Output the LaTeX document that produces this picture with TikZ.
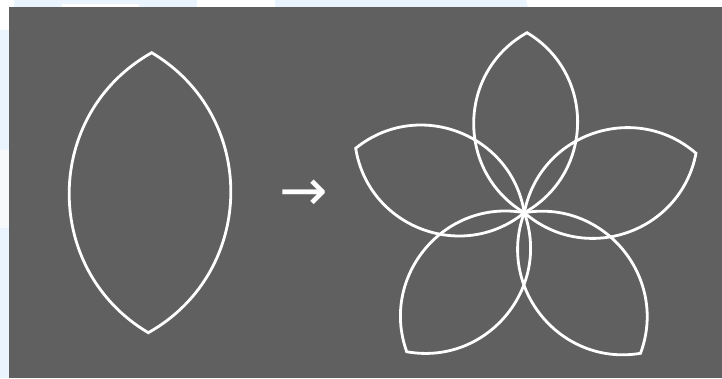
\documentclass[tikz,border=0pt]{standalone}
\usepackage{fontspec}
\newfontfamily\arrowfont{DejaVu Sans}
\definecolor{pagebg}{HTML}{EAF4FF}
\definecolor{panel}{HTML}{606060}
\definecolor{offwhite}{HTML}{F8F9FB}
\begin{document}
\begin{tikzpicture}[x=1pt,y=-1pt,
  petal/.style={draw=white,line width=2.8pt,line join=miter},
  lens/.style={bend left=60,looseness=1.135}]
\useasboundingbox (0,0) rectangle (722,378);
% page background around the panel
\fill[pagebg] (0,0) rectangle (722,378);
\fill[white] (0,0) rectangle (14,30);
\fill[white] (62,4) rectangle (139,7);
\fill[white] (197,0) rectangle (275,7);
\fill[white] (526,0) -- (722,0) -- (722,7) -- (528,7) -- cycle;
\fill[offwhite] (0,150) rectangle (9,228);
% dark panel
\fill[panel] (9,7) rectangle (722,378);
% single lens
\coordinate (L1) at (151.7,52.7);
\coordinate (L2) at (148.3,332.7);
\draw[petal] (L1) to[lens] (L2) to[lens] (L1) -- cycle;
% arrow
\node[text=white,inner sep=0pt,font=\arrowfont\fontsize{58}{58}\selectfont] (arrow) at (303.5,195) {→};
% flower
\coordinate (C) at (524.3,212.7);
\coordinate (T1) at (527,32.7);
\coordinate (T2) at (696,153.3);
\coordinate (T3) at (355.7,148.3);
\coordinate (T4) at (406.7,351.7);
\coordinate (T5) at (640.5,353.3);
\foreach \t in {T1,T2,T3,T4,T5}{
  \draw[petal] (C) to[lens] (\t) to[lens] (C) -- cycle;
}
\end{tikzpicture}
\end{document}
